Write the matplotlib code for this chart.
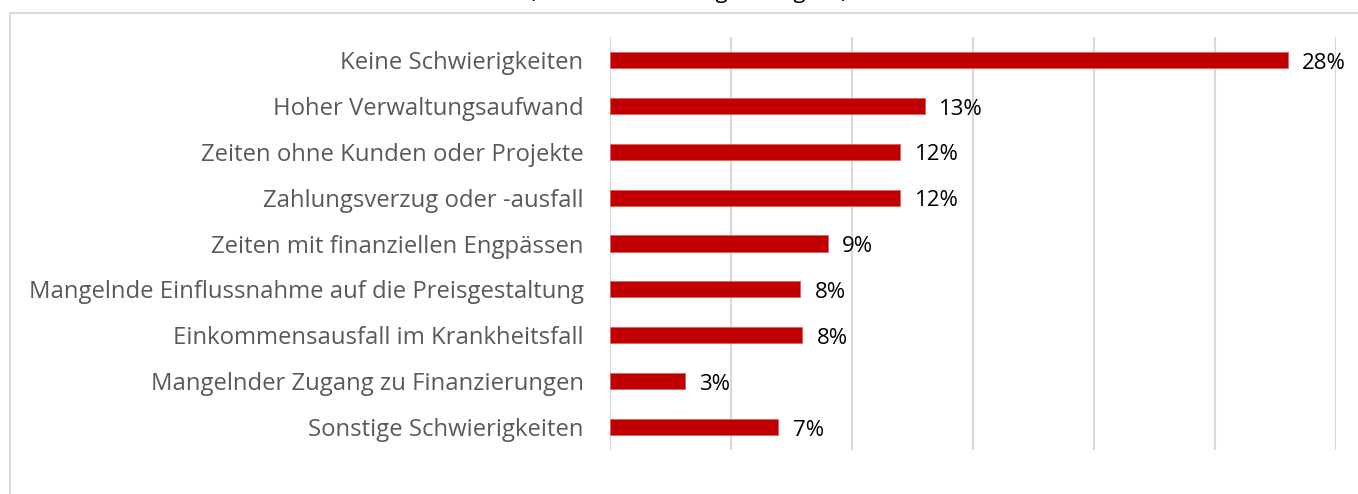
import matplotlib.pyplot as plt
from matplotlib.patches import Rectangle

kategorien = [
    "Keine Schwierigkeiten",
    "Hoher Verwaltungsaufwand",
    "Zeiten ohne Kunden oder Projekte",
    "Zahlungsverzug oder -ausfall",
    "Zeiten mit finanziellen Engpässen",
    "Mangelnde Einflussnahme auf die Preisgestaltung",
    "Einkommensausfall im Krankheitsfall",
    "Mangelnder Zugang zu Finanzierungen",
    "Sonstige Schwierigkeiten",
]
werte = [28.0, 13.0, 12.0, 12.0, 9.0, 7.85, 7.95, 3.1, 6.95]
labels = ["28%", "13%", "12%", "12%", "9%", "8%", "8%", "3%", "7%"]

plt.rcParams['font.family'] = ['Open Sans', 'DejaVu Sans']

fig = plt.figure(figsize=(13.58, 4.94), dpi=100)
ax = fig.add_axes([610/1358, 1 - 450/494, 726/1358, 413/494])

# Rahmen des Diagramms
fig.patches.append(Rectangle((10/1358, -0.1), 1.2, 1 - 13/494 + 0.1,
                             transform=fig.transFigure, fill=False,
                             edgecolor='#D9D9D9', linewidth=1.5))

# abgeschnittener Titel
fig.text(688/1358, 1.0 + 7/494, "(Mehrfachnennungen möglich)", ha='center', va='center',
         fontsize=16, color='black')

y = range(len(kategorien))
ax.barh(y, werte, height=0.35, color='#C00000', edgecolor='#E06060', linewidth=0.6, zorder=3)
for i, (w, t) in enumerate(zip(werte, labels)):
    ax.text(w + 0.6, i + 0.07, t, va='center', ha='left', fontsize=16, color='black')

ax.set_xlim(0, 30)
ax.set_ylim(8.5, -0.5)
ax.set_xticks([0, 5, 10, 15, 20, 25, 30])
ax.set_xticklabels([])
ax.tick_params(axis='x', length=0)
ax.tick_params(axis='y', length=0, pad=19)
ax.set_yticks(list(y))
ax.set_yticklabels(kategorien, fontsize=17.2, color='#595959')
ax.grid(axis='x', color='#D9D9D9', linewidth=1.5, zorder=0)
for s in ax.spines.values():
    s.set_visible(False)

plt.savefig('out.png', dpi=100)
